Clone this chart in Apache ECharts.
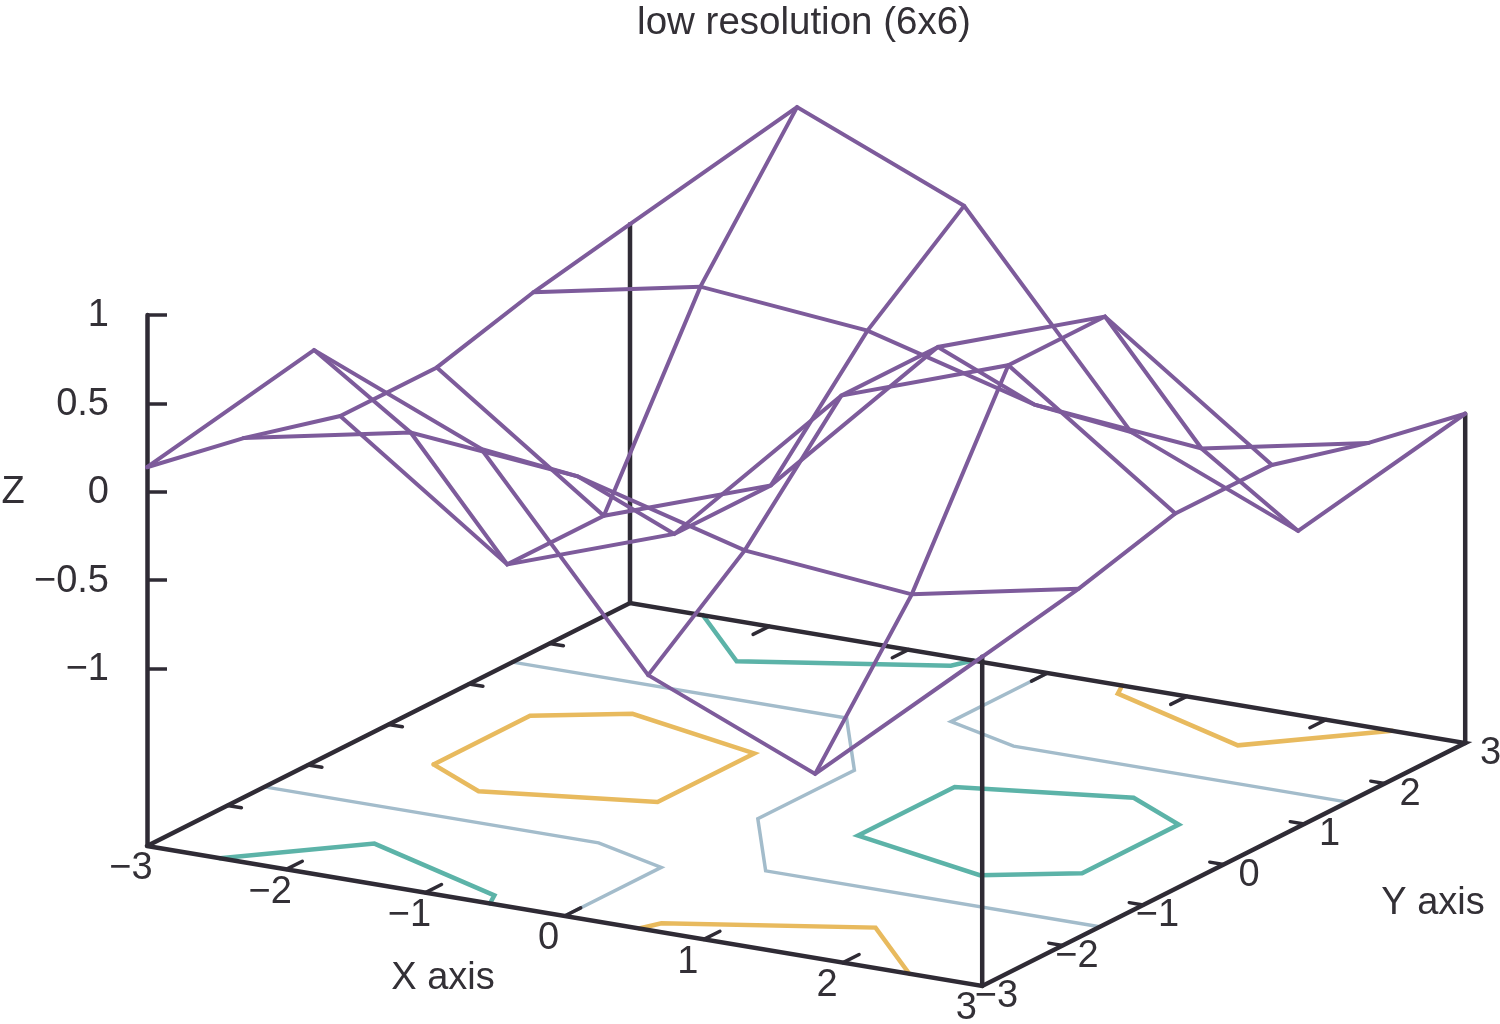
<!DOCTYPE html>
<html>
<head>
<meta charset="utf-8">
<style>html,body{margin:0;padding:0;background:#fff}#c{width:1500px;height:1024px}</style>
<script src="https://cdn.jsdelivr.net/npm/echarts@6/dist/echarts.min.js"></script>
</head>
<body>
<div id="c"></div>
<script>
// ---- data ----
const gridX = [-3, -1.8, -0.6, 0.6, 1.8, 3];
const gridY = [-3, -1.8, -0.6, 0.6, 1.8, 3];
const zAtYm30 = [0.14, 0.96, 0.56, -0.56, -0.96, -0.14];
const zAtYm18 = [0.03, 0.22, 0.13, -0.13, -0.22, -0.03];
const zAtYm06 = [-0.12, -0.80, -0.47, 0.47, 0.80, 0.12];
const zAtYp06 = [-0.12, -0.80, -0.47, 0.47, 0.80, 0.12];
const zAtYp18 = [0.03, 0.22, 0.13, -0.13, -0.22, -0.03];
const zAtYp30 = [0.14, 0.96, 0.56, -0.56, -0.96, -0.14];
const xTicks = [-3, -2, -1, 0, 1, 2, 3];
const yTicks = [-3, -2, -1, 0, 1, 2, 3];
const zTicks = [-1, -0.5, 0, 0.5, 1];

// contour lines on the base plane, [x, y]
const levelPlus1 = [[-2.476,-3],[-1.8,-2.25],[-0.6,-2.835],[-0.536,-3]];
const levelPlus2 = [[-2.476,3],[-1.8,2.25],[-0.6,2.835],[-0.536,3]];
const levelPlus3 = [[2.33,-0.6],[2.33,0.6],[1.8,0.956],[0.72,0.6],[0.72,-0.6],[1.8,-0.956],[2.33,-0.6]];
const levelZero1 = [[-3,1.54],[-0.6,1.54],[0,0.6],[0,-0.6],[0.6,-1.54],[3,-1.54]];
const levelZero2 = [[-3,-1.54],[-0.6,-1.54],[0,-1.8],[0,-3]];
const levelZero3 = [[0,3],[0,1.8],[0.6,1.54],[3,1.54]];
const levelMinus1 = [[0.536,-3],[0.6,-2.835],[1.8,-2.25],[2.476,-3]];
const levelMinus2 = [[0.536,3],[0.6,2.835],[1.8,2.25],[2.476,3]];
const levelMinus3 = [[-2.33,-0.6],[-2.33,0.6],[-1.8,0.956],[-0.72,0.6],[-0.72,-0.6],[-1.8,-0.956],[-2.33,-0.6]];

const titleText = 'low resolution (6x6)';
const xName = 'X axis', yName = 'Y axis', zName = 'Z';

// ---- view ----
const C = {purple:'#7d5b9b', teal:'#5cb3a8', yellow:'#e8ba5e', blue:'#a3bccb', ink:'#2f2b35', text:'#333036'};
const FONT = '"Liberation Sans", Arial, sans-serif';
const FS = 38;
const zBase = -2;
function proj(x, y, z) {
  const a = x + 3, b = y + 3;
  return [147 + a * 139.2 + b * 80.5, 492 + a * 23.33 - b * 40.5 - z * 177];
}
const rows = [zAtYm30, zAtYm18, zAtYm06, zAtYp06, zAtYp18, zAtYp30];
const base = (p) => proj(p[0], p[1], zBase);
function line(name, pts, color, width) {
  return {name, type:'line', xAxisIndex:0, yAxisIndex:0, data:pts, symbol:'none', silent:true, animation:false,
    clip:false, lineStyle:{color, width, join:'miter', cap:'round'}};
}
const series = [];
[[levelZero1,'level 0'],[levelZero2,'level 0'],[levelZero3,'level 0']].forEach(l => series.push(line(l[1], l[0].map(base), C.blue, 3.5)));
[levelPlus1, levelPlus2, levelPlus3].forEach(l => series.push(line('level 0.5', l.map(base), C.teal, 4.5)));
[levelMinus1, levelMinus2, levelMinus3].forEach(l => series.push(line('level -0.5', l.map(base), C.yellow, 4.5)));

// base border
series.push(line('base', [[-3,-3],[3,-3],[3,3],[-3,3],[-3,-3]].map(base), C.ink, 4.5));
// ticks on the base edges
xTicks.slice(1,-1).forEach(t => {
  series.push(line('xtick', [base([t,-3]), base([t,-2.8])], C.ink, 3.5));
  series.push(line('xtick', [base([t,3]), base([t,2.8])], C.ink, 3.5));
});
yTicks.slice(1,-1).forEach(t => {
  series.push(line('ytick', [base([-3,t]), base([-2.9,t])], C.ink, 3.5));
  series.push(line('ytick', [base([3,t]), base([2.9,t])], C.ink, 3.5));
});
// corner stems from base to surface
[[5,0],[5,5],[0,5]].forEach(c => {
  const x = gridX[c[0]], y = gridY[c[1]];
  series.push(line('stem', [proj(x,y,zBase), proj(x,y,rows[c[1]][c[0]])], C.ink, 4.5));
});
// wire mesh
rows.forEach((r, j) => series.push(line('surface', r.map((z,i) => proj(gridX[i], gridY[j], z)), C.purple, 4)));
gridX.forEach((x, i) => series.push(line('surface', rows.map((r,j) => proj(x, gridY[j], r[i])), C.purple, 4)));

// text labels
function txt(pos, text, align) {
  return {value:pos, label:{show:true, position:'inside', formatter:text, align:align||'center', verticalAlign:'middle',
    fontFamily:FONT, fontSize:FS, color:C.text, opacity:1}};
}
const fmt = v => (v < 0 ? '\u2212' : '') + Math.abs(v);
const labels = [];
xTicks.forEach(t => { const p = base([t,-3]); labels.push(txt([p[0]-16, p[1]+23], fmt(t))); });
yTicks.forEach(t => { const p = base([3,t]); labels.push(txt([p[0]+36, p[1]+11], fmt(t), 'right')); });
zTicks.forEach(t => { const p = proj(-3,-3,t); labels.push(txt([p[0]-38, p[1]+1], fmt(t), 'right')); });
labels.push(txt([443,979], xName));
labels.push(txt([1433,904], yName));
labels.push(txt([13,493], zName));
series.push({name:'labels', type:'scatter', xAxisIndex:0, yAxisIndex:0, data:labels, symbolSize:1,
  itemStyle:{color:'rgba(255,255,255,0)', opacity:1}, silent:true, animation:false, clip:false});

// z axis: a real value axis standing on the base corner
series.push({name:'z', type:'line', xAxisIndex:1, yAxisIndex:1, data:[], silent:true});

const option = {
  backgroundColor:'#fff',
  animation:false,
  title:{text:titleText, left:799, top:-1, textAlign:'center',
    textStyle:{fontFamily:FONT, fontSize:38.5, fontWeight:'normal', color:C.text}},
  grid:[
    {left:0, top:0, width:1500, height:1024, containLabel:false},
    {left:147, top:315, width:1, height:530, containLabel:false}
  ],
  xAxis:[
    {gridIndex:0, type:'value', min:0, max:1500, show:false},
    {gridIndex:1, type:'value', min:0, max:1, show:false}
  ],
  yAxis:[
    {gridIndex:0, type:'value', min:0, max:1024, inverse:true, show:false},
    {gridIndex:1, type:'value', min:zBase, max:1, interval:0.5, position:'left',
      splitLine:{show:false},
      axisLine:{show:true, onZero:false, lineStyle:{color:C.ink, width:4.5}},
      axisTick:{show:true, inside:true, length:20, customValues:zTicks, lineStyle:{color:C.ink, width:3.5}},
      axisLabel:{show:false}}
  ],
  series
};
const chart = echarts.init(document.getElementById('c'), null, {renderer:'canvas'});
chart.setOption(option);
</script>
</body>
</html>
